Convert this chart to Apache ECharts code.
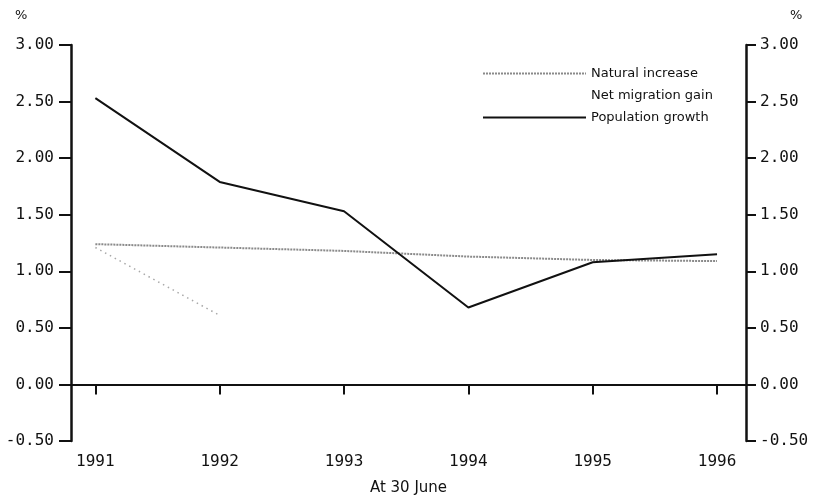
<!DOCTYPE html>
<html>
<head>
<meta charset="utf-8">
<script src="https://cdn.jsdelivr.net/npm/echarts@6/dist/echarts.min.js"></script>
<style>
html,body{margin:0;padding:0;background:#fff;}
#chart{width:816px;height:501px;}
</style>
</head>
<body>
<div id="chart"></div>
<script>
// ---- data ----
const years = [1991, 1992, 1993, 1994, 1995, 1996];
const naturalIncrease  = [1.24, 1.21, 1.18, 1.13, 1.10, 1.09];
const netMigrationGain = [1.21, 0.61, null, null, null, null];
const populationGrowth = [2.53, 1.79, 1.53, 0.68, 1.08, 1.15];
const seriesNames = ['Natural increase', 'Net migration gain', 'Population growth'];
const xTitle = 'At 30 June';
const yUnit = '%';

const pairs = arr => years.map((y, i) => [y, arr[i]]);

const chart = echarts.init(document.getElementById('chart'), null, {renderer: 'canvas'});
const numFont = 'DejaVu Sans Mono';
const txtFont = 'DejaVu Sans';
const ink = '#111';

const yAxisCommon = {
  type: 'value', min: -0.5, max: 3, interval: 0.5,
  axisLine: {show: true, onZero: false, lineStyle: {color: ink, width: 2.5}},
  axisTick: {show: true, inside: false, lineStyle: {color: ink, width: 2}},
  axisLabel: {formatter: v => v.toFixed(2), fontFamily: numFont, fontSize: 16, color: ink},
  splitLine: {show: false}
};

chart.setOption({
  animation: false,
  backgroundColor: '#fff',
  grid: {left: 71, right: 70, top: 45, bottom: 60, containLabel: false},
  legend: {
    orient: 'vertical', left: 477, top: 62,
    itemWidth: 103, itemHeight: 12, itemGap: 9,
    itemStyle: {opacity: 0},
    textStyle: {fontFamily: txtFont, fontSize: 13, color: ink},
    data: [
      {name: seriesNames[0]},
      {name: seriesNames[1], lineStyle: {opacity: 0}},
      {name: seriesNames[2]}
    ]
  },
  graphic: [
    {type: 'text', left: 15, top: 9, style: {text: yUnit, fontFamily: txtFont, fontSize: 13, fill: ink}},
    {type: 'text', left: 790, top: 9, style: {text: yUnit, fontFamily: txtFont, fontSize: 13, fill: ink}}
  ],
  xAxis: [
    {
      type: 'value', min: 1990.804, max: 1996.233,
      axisLine: {show: true, onZero: true, lineStyle: {color: ink, width: 2}},
      axisTick: {show: true, customValues: years, length: 10, lineStyle: {color: ink, width: 2}},
      axisLabel: {show: false},
      splitLine: {show: false}
    },
    {
      type: 'value', min: 1990.804, max: 1996.233, position: 'bottom',
      axisLine: {show: false, onZero: false},
      axisTick: {show: false},
      axisLabel: {customValues: years, formatter: v => String(v), fontFamily: numFont, fontSize: 16, color: ink, margin: 13},
      splitLine: {show: false},
      name: xTitle, nameLocation: 'middle', nameGap: 40,
      nameTextStyle: {fontFamily: txtFont, fontSize: 15, color: ink}
    }
  ],
  yAxis: [
    Object.assign({}, yAxisCommon, {
      position: 'left',
      axisTick: Object.assign({}, yAxisCommon.axisTick, {length: 12}),
      axisLabel: Object.assign({}, yAxisCommon.axisLabel, {margin: 17})
    }),
    Object.assign({}, yAxisCommon, {
      position: 'right',
      axisTick: Object.assign({}, yAxisCommon.axisTick, {length: 10}),
      axisLabel: Object.assign({}, yAxisCommon.axisLabel, {margin: 14})
    })
  ],
  series: [
    {
      name: seriesNames[0], type: 'line', xAxisIndex: 0, yAxisIndex: 0,
      data: pairs(naturalIncrease), symbol: 'none', z: 3,
      lineStyle: {color: '#8a8a8a', width: 2, type: [2, 1]},
      itemStyle: {color: '#8a8a8a'}
    },
    {
      name: seriesNames[1], type: 'line', xAxisIndex: 0, yAxisIndex: 0,
      data: pairs(netMigrationGain), symbol: 'none', z: 2,
      lineStyle: {color: '#a8a8a8', width: 1.5, type: [1.5, 4]},
      itemStyle: {color: '#a8a8a8'}
    },
    {
      name: seriesNames[2], type: 'line', xAxisIndex: 0, yAxisIndex: 0,
      data: pairs(populationGrowth), symbol: 'none', z: 4,
      lineStyle: {color: ink, width: 2},
      itemStyle: {color: ink}
    }
  ]
});
</script>
</body>
</html>
